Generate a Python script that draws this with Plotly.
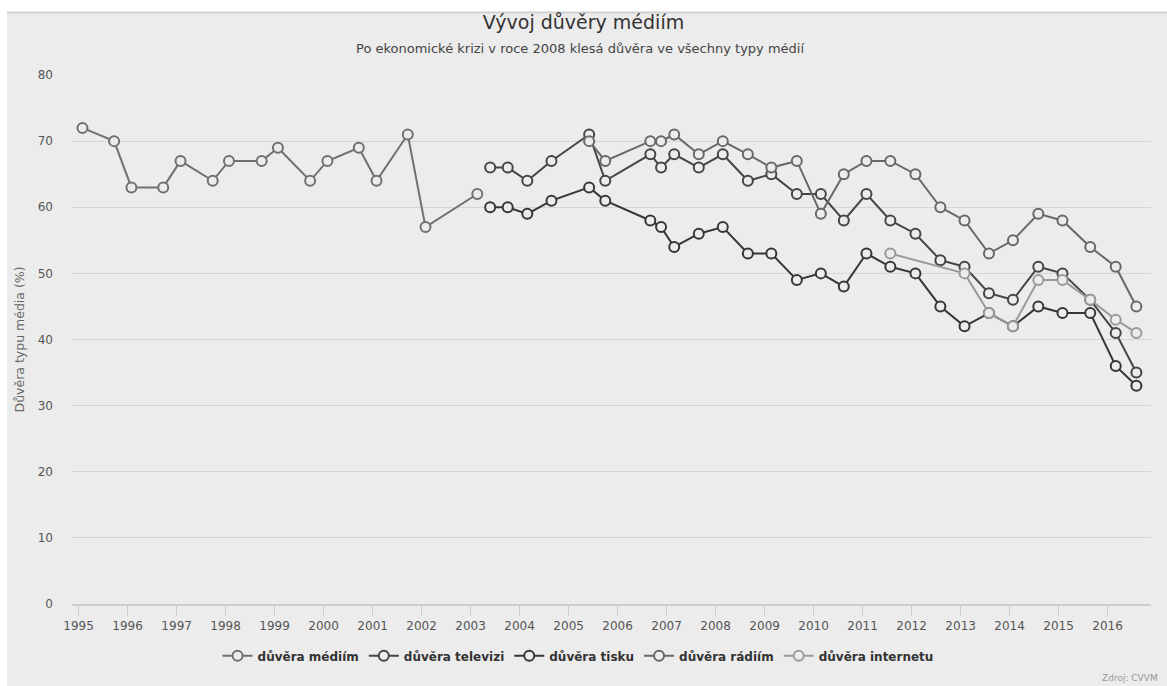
import plotly.graph_objects as go

# Survey dates and trust levels (%)
media_dates = [
    "1995-01-30", "1995-09-23", "1996-01-30", "1996-09-23", "1997-01-30",
    "1997-09-27", "1998-01-26", "1998-09-27", "1999-01-26", "1999-09-23",
    "2000-01-30", "2000-09-20", "2001-01-30", "2001-09-20", "2002-01-30",
    "2003-02-20",
]
media_values = [72, 70, 63, 63, 67, 64, 67, 67, 69, 64, 67, 69, 64, 71, 57, 62]

survey_dates = [
    "2003-05-27", "2003-10-05", "2004-02-28", "2004-08-26", "2005-06-03",
    "2005-10-01", "2006-09-02", "2006-11-21", "2007-02-27", "2007-08-29",
    "2008-02-24", "2008-08-29", "2009-02-20", "2009-08-29", "2010-02-24",
    "2010-08-14", "2011-01-30", "2011-07-27", "2012-01-30", "2012-08-03",
    "2013-01-30", "2013-07-31", "2014-01-26", "2014-08-03", "2015-01-30",
    "2015-08-25", "2016-03-02", "2016-08-03",
]
tv_values = [66, 66, 64, 67, 71, 64, 68, 66, 68, 66, 68, 64, 65, 62, 62, 58,
             62, 58, 56, 52, 51, 47, 46, 51, 50, 46, 41, 35]
press_values = [60, 60, 59, 61, 63, 61, 58, 57, 54, 56, 57, 53, 53, 49, 50, 48,
                53, 51, 50, 45, 42, 44, 42, 45, 44, 44, 36, 33]

radio_dates = survey_dates[4:]
radio_values = [70, 67, 70, 70, 71, 68, 70, 68, 66, 67, 59, 65, 67, 67, 65, 60,
                58, 53, 55, 59, 58, 54, 51, 45]

internet_dates = [
    "2011-07-27", "2013-01-30", "2013-07-31", "2014-01-26", "2014-08-03",
    "2015-01-30", "2015-08-25", "2016-03-02", "2016-08-03",
]
internet_values = [53, 50, 44, 42, 49, 49, 46, 43, 41]

series = [
    ("důvěra médiím", media_dates, media_values, "#707070"),
    ("důvěra televizi", survey_dates, tv_values, "#454545"),
    ("důvěra tisku", survey_dates, press_values, "#363636"),
    ("důvěra rádiím", radio_dates, radio_values, "#686868"),
    ("důvěra internetu", internet_dates, internet_values, "#9a9a9a"),
]

BG = "#ececec"
FONT = "DejaVu Sans"

fig = go.Figure()
for name, xs, ys, color in series:
    fig.add_trace(go.Scatter(
        x=xs, y=ys, name=name, mode="lines+markers",
        line=dict(color=color, width=2),
        marker=dict(symbol="circle", size=10, color=BG,
                    line=dict(color=color, width=2)),
    ))

year_ticks = [f"{y}-01-01" for y in range(1995, 2017)]
year_labels = [str(y) for y in range(1995, 2017)]

fig.update_layout(
    width=1167, height=686,
    margin=dict(l=72, r=16, t=75, b=82),
    paper_bgcolor=BG, plot_bgcolor=BG,
    font=dict(family=FONT, color="#555555", size=12),
    title=dict(text="Vývoj důvěry médiím", x=0.5, xanchor="center",
               y=1 - 22 / 686, yanchor="middle",
               font=dict(family=FONT, size=19, color="#333333")),
    showlegend=True,
    legend=dict(orientation="h", x=0.469, xanchor="center", y=-0.098,
                yanchor="middle", bgcolor="rgba(0,0,0,0)",
                font=dict(family=FONT, size=12, color="#333333",
                          weight="bold"),
                itemwidth=30),
    xaxis=dict(
        type="date", range=["1994-11-13", "2016-11-20"],
        tickvals=year_ticks, ticktext=year_labels,
        showgrid=False, zeroline=False,
        showline=True, linecolor="#cccccc", linewidth=2,
        ticks="outside", ticklen=10, tickcolor="#cccccc", tickwidth=1,
        tickfont=dict(size=12, color="#555555"),
    ),
    yaxis=dict(
        range=[0, 80], tickvals=list(range(0, 81, 10)),
        showgrid=True, gridcolor="#d6d6d6", gridwidth=1,
        zeroline=False, showline=False, ticks="",
        ticklabelstandoff=18,
        tickfont=dict(size=12, color="#555555"),
    ),
    shapes=[
        # white page strips around the chart card
        dict(type="rect", xref="paper", yref="paper",
             xsizemode="pixel", xanchor=0, x0=-80, x1=-65,
             y0=-0.3, y1=1.3, fillcolor="white", line_width=0, layer="below"),
        dict(type="rect", xref="paper", yref="paper",
             ysizemode="pixel", yanchor=1, y0=63, y1=80,
             x0=-0.2, x1=1.2, fillcolor="white", line_width=0, layer="below"),
        dict(type="line", xref="paper", yref="paper",
             ysizemode="pixel", yanchor=1, y0=62.5, y1=62.5,
             xsizemode="pixel", xanchor=0, x0=-65, x1=1100,
             line=dict(color="#d2d2d2", width=2), layer="below"),
    ],
    annotations=[
        dict(text="Po ekonomické krizi v roce 2008 klesá důvěra ve všechny typy médií",
             xref="paper", yref="paper", x=0.471, y=1.051,
             xanchor="center", yanchor="middle", showarrow=False,
             font=dict(family=FONT, size=13, color="#444444")),
        dict(text="Důvěra typu média (%)", textangle=-90,
             xref="paper", yref="paper", x=-0.0482, y=0.5,
             xanchor="center", yanchor="middle", showarrow=False,
             font=dict(family=FONT, size=12.5, color="#666666")),
        dict(text="Zdroj: CVVM", xref="paper", yref="paper",
             x=1.0083, y=-0.14, xanchor="right", yanchor="middle",
             showarrow=False, font=dict(family=FONT, size=9, color="#999999")),
    ],
)

fig.write_html("out.html")
